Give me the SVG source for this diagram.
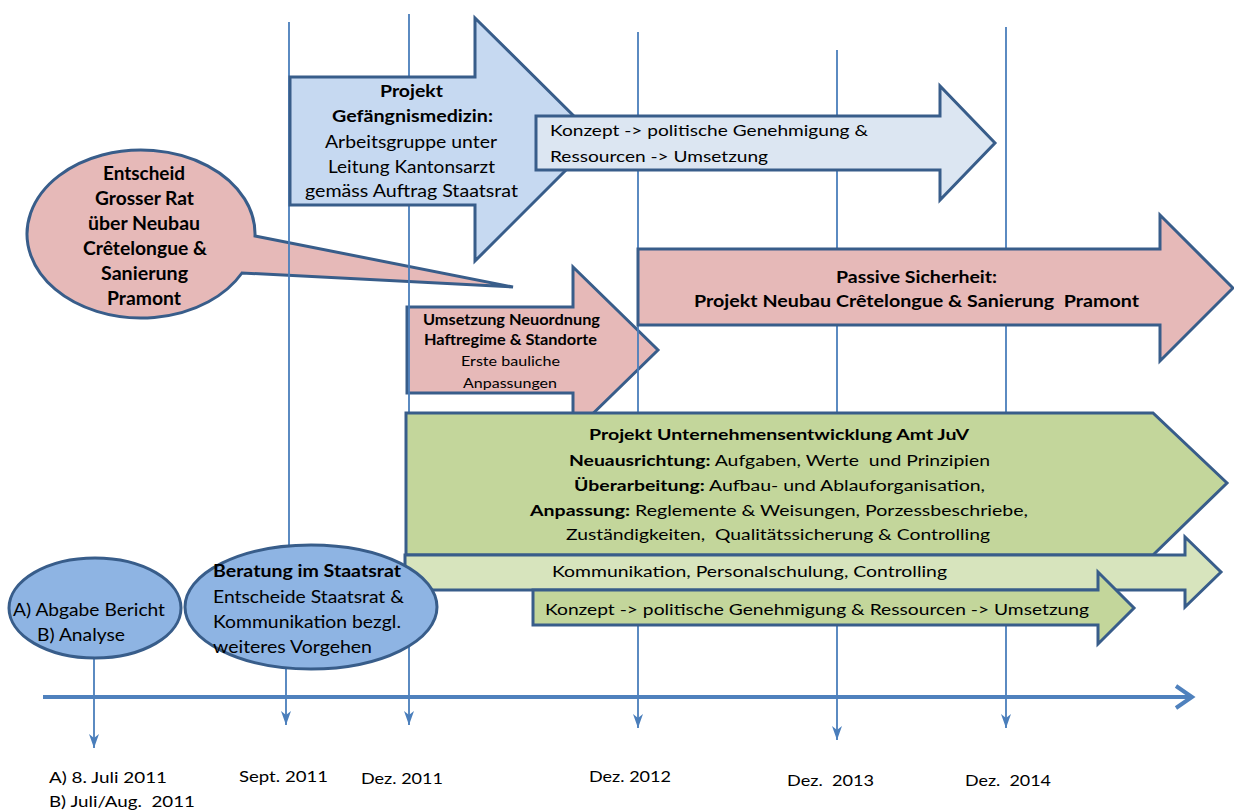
<svg xmlns="http://www.w3.org/2000/svg" width="1234" height="812" viewBox="0 0 1234 812" xml:space="preserve">
<style>
text{white-space:pre}
.t{font-family:Lato,"Liberation Sans",sans-serif;fill:#000}
.b{font-weight:bold}
.sh{stroke:#385d8a;stroke-width:3;stroke-linejoin:miter}
.vl{stroke:#4a7ebb;stroke-width:1.8;fill:none}
.blue1{fill:#c6d9f1}
.blue2{fill:#dce6f2}
.pink{fill:#e6b9b8}
.green{fill:#c3d69b}
.lgreen{fill:#d7e4bd}
.ell{fill:#8eb4e3}
</style>
<defs>
<marker id="dn" viewBox="0 0 14 10" refX="14" refY="5" markerWidth="14" markerHeight="10" markerUnits="userSpaceOnUse" orient="auto">
<path d="M0,0 L14,5 L0,10 L4,5 Z" fill="#4a7ebb"/>
</marker>
</defs>
<rect width="1234" height="812" fill="#fff"/>

<!-- nodes beneath the connector lines -->
<g id="callout-grosser-rat">
<path class="sh pink" d="M255,236 L513,287 L242,273 A114,84 0 1 1 255,236 Z"/>
<g class="t b" font-size="18">
<text x="103" y="180" textLength="82" lengthAdjust="spacingAndGlyphs">Entscheid</text>
<text x="95" y="205" textLength="99" lengthAdjust="spacingAndGlyphs">Grosser Rat</text>
<text x="88" y="230" textLength="112" lengthAdjust="spacingAndGlyphs">über Neubau</text>
<text x="83" y="255" textLength="124" lengthAdjust="spacingAndGlyphs">Crêtelongue &amp;</text>
<text x="101" y="280" textLength="87" lengthAdjust="spacingAndGlyphs">Sanierung</text>
<text x="107" y="305" textLength="74" lengthAdjust="spacingAndGlyphs">Pramont</text>
</g>
</g>
<g id="arrow-umsetzung">
<path class="sh pink" d="M407,307 L573,307 L573,267 L658,350 L573,433 L573,393 L407,393 Z"/>
<text class="t b" font-size="14.5" x="423" y="325" textLength="177" lengthAdjust="spacingAndGlyphs">Umsetzung Neuordnung</text>
<text class="t b" font-size="14.5" x="424" y="345" textLength="173" lengthAdjust="spacingAndGlyphs">Haftregime &amp; Standorte</text>
<text class="t" font-size="14" x="461" y="366" textLength="99" lengthAdjust="spacingAndGlyphs">Erste bauliche</text>
<text class="t" font-size="14" x="463" y="388" textLength="94" lengthAdjust="spacingAndGlyphs">Anpassungen</text>
</g>

<!-- connectors: time axis and milestone lines -->
<g id="connectors">
<line class="vl" x1="289" y1="22" x2="289" y2="600"/>
<line class="vl" x1="409" y1="14" x2="409" y2="725" marker-end="url(#dn)"/>
<line class="vl" x1="638" y1="32" x2="638" y2="728" marker-end="url(#dn)"/>
<line class="vl" x1="837" y1="50" x2="837" y2="740" marker-end="url(#dn)"/>
<line class="vl" x1="1006" y1="27" x2="1006" y2="728" marker-end="url(#dn)"/>
<line class="vl" x1="94" y1="640" x2="94" y2="748" marker-end="url(#dn)"/>
<line class="vl" x1="286" y1="640" x2="286" y2="725" marker-end="url(#dn)"/>
<line x1="43" y1="697" x2="1190" y2="697" stroke="#4f81bd" stroke-width="4"/>
<polyline points="1176,686 1192,697 1176,708" fill="none" stroke="#4f81bd" stroke-width="4"/>
</g>

<g id="arrow-gefaengnismedizin">
<path class="sh blue1" d="M290,77 L475,77 L475,18 L597,139 L475,261 L475,205 L290,205 Z"/>
<text class="t b" font-size="17" x="380" y="97" textLength="63" lengthAdjust="spacingAndGlyphs">Projekt</text>
<text class="t b" font-size="17" x="332" y="122" textLength="161" lengthAdjust="spacingAndGlyphs">Gefängnismedizin:</text>
<text class="t" font-size="16.5" x="325" y="148" textLength="172" lengthAdjust="spacingAndGlyphs">Arbeitsgruppe unter</text>
<text class="t" font-size="16.5" x="328" y="173" textLength="167" lengthAdjust="spacingAndGlyphs">Leitung Kantonsarzt</text>
<text class="t" font-size="16.5" x="305" y="197" textLength="213" lengthAdjust="spacingAndGlyphs">gemäss Auftrag Staatsrat</text>
</g>
<g id="arrow-konzept-blue">
<path class="sh blue2" d="M536,116 L940,116 L940,86 L995,143 L940,200 L940,170 L536,170 Z"/>
<text class="t" font-size="16" x="550" y="136" textLength="318" lengthAdjust="spacingAndGlyphs">Konzept -&gt; politische Genehmigung &amp;</text>
<text class="t" font-size="16" x="550" y="162" textLength="218" lengthAdjust="spacingAndGlyphs">Ressourcen -&gt; Umsetzung</text>
</g>
<g id="arrow-passive-sicherheit">
<path class="sh pink" d="M638,249 L1160,249 L1160,215 L1233,288 L1160,361 L1160,325 L638,325 Z"/>
<text class="t b" font-size="17" x="836" y="283" textLength="161" lengthAdjust="spacingAndGlyphs">Passive Sicherheit:</text>
<text class="t b" font-size="17" x="694" y="307" textLength="445" lengthAdjust="spacingAndGlyphs">Projekt Neubau Crêtelongue &amp; Sanierung  Pramont</text>
</g>
<g id="arrow-unternehmensentwicklung">
<path class="sh green" d="M406,413 L1153,413 L1227,483 L1153,555 L406,555 Z"/>
<text class="t b" font-size="16" x="589" y="440" textLength="380" lengthAdjust="spacingAndGlyphs">Projekt Unternehmensentwicklung Amt JuV</text>
<text class="t" font-size="16" x="569" y="466" textLength="421" lengthAdjust="spacingAndGlyphs"><tspan class="b">Neuausrichtung:</tspan> Aufgaben, Werte  und Prinzipien</text>
<text class="t" font-size="16" x="574" y="491" textLength="411" lengthAdjust="spacingAndGlyphs"><tspan class="b">Überarbeitung:</tspan> Aufbau- und Ablauforganisation,</text>
<text class="t" font-size="16" x="530" y="516" textLength="498" lengthAdjust="spacingAndGlyphs"><tspan class="b">Anpassung:</tspan> Reglemente &amp; Weisungen, Porzessbeschriebe,</text>
<text class="t" font-size="16" x="566" y="540" textLength="424" lengthAdjust="spacingAndGlyphs">Zuständigkeiten,  Qualitätssicherung &amp; Controlling</text>
</g>
<g id="arrow-kommunikation">
<path class="sh lgreen" d="M405,555 L1185,555 L1185,537 L1221,572 L1185,607 L1185,590 L405,590 Z"/>
<text class="t" font-size="16" x="552" y="577" textLength="395" lengthAdjust="spacingAndGlyphs">Kommunikation, Personalschulung, Controlling</text>
</g>
<g id="arrow-konzept-green">
<path class="sh green" d="M533,590 L1098,590 L1098,572 L1134,608 L1098,644 L1098,625 L533,625 Z"/>
<text class="t" font-size="16" x="545" y="615" textLength="544" lengthAdjust="spacingAndGlyphs">Konzept -&gt; politische Genehmigung &amp; Ressourcen -&gt; Umsetzung</text>
</g>
<g id="ellipse-abgabe">
<ellipse class="sh ell" cx="95" cy="608" rx="86" ry="50"/>
<text class="t" font-size="17" x="13" y="616" textLength="152" lengthAdjust="spacingAndGlyphs">A) Abgabe Bericht</text>
<text class="t" font-size="17" x="37" y="641" textLength="88" lengthAdjust="spacingAndGlyphs">B) Analyse</text>
</g>
<g id="ellipse-beratung">
<ellipse class="sh ell" cx="311" cy="607" rx="126" ry="62"/>
<text class="t b" font-size="16.5" x="213" y="577" textLength="188" lengthAdjust="spacingAndGlyphs">Beratung im Staatsrat</text>
<text class="t" font-size="16.5" x="213" y="603" textLength="191" lengthAdjust="spacingAndGlyphs">Entscheide Staatsrat &amp;</text>
<text class="t" font-size="16.5" x="213" y="628" textLength="188" lengthAdjust="spacingAndGlyphs">Kommunikation bezgl.</text>
<text class="t" font-size="16.5" x="213" y="653" textLength="159" lengthAdjust="spacingAndGlyphs">weiteres Vorgehen</text>
</g>

<g id="dates" class="t" font-size="15">
<text x="49" y="783" textLength="118" lengthAdjust="spacingAndGlyphs">A) 8. Juli 2011</text>
<text x="49" y="807" textLength="146" lengthAdjust="spacingAndGlyphs">B) Juli/Aug.  2011</text>
<text x="239" y="782" textLength="89" lengthAdjust="spacingAndGlyphs">Sept. 2011</text>
<text x="361" y="784" textLength="82" lengthAdjust="spacingAndGlyphs">Dez. 2011</text>
<text x="589" y="782" textLength="82" lengthAdjust="spacingAndGlyphs">Dez. 2012</text>
<text x="787" y="786" textLength="87" lengthAdjust="spacingAndGlyphs">Dez.  2013</text>
<text x="965" y="786" textLength="86" lengthAdjust="spacingAndGlyphs">Dez.  2014</text>
</g>
</svg>
